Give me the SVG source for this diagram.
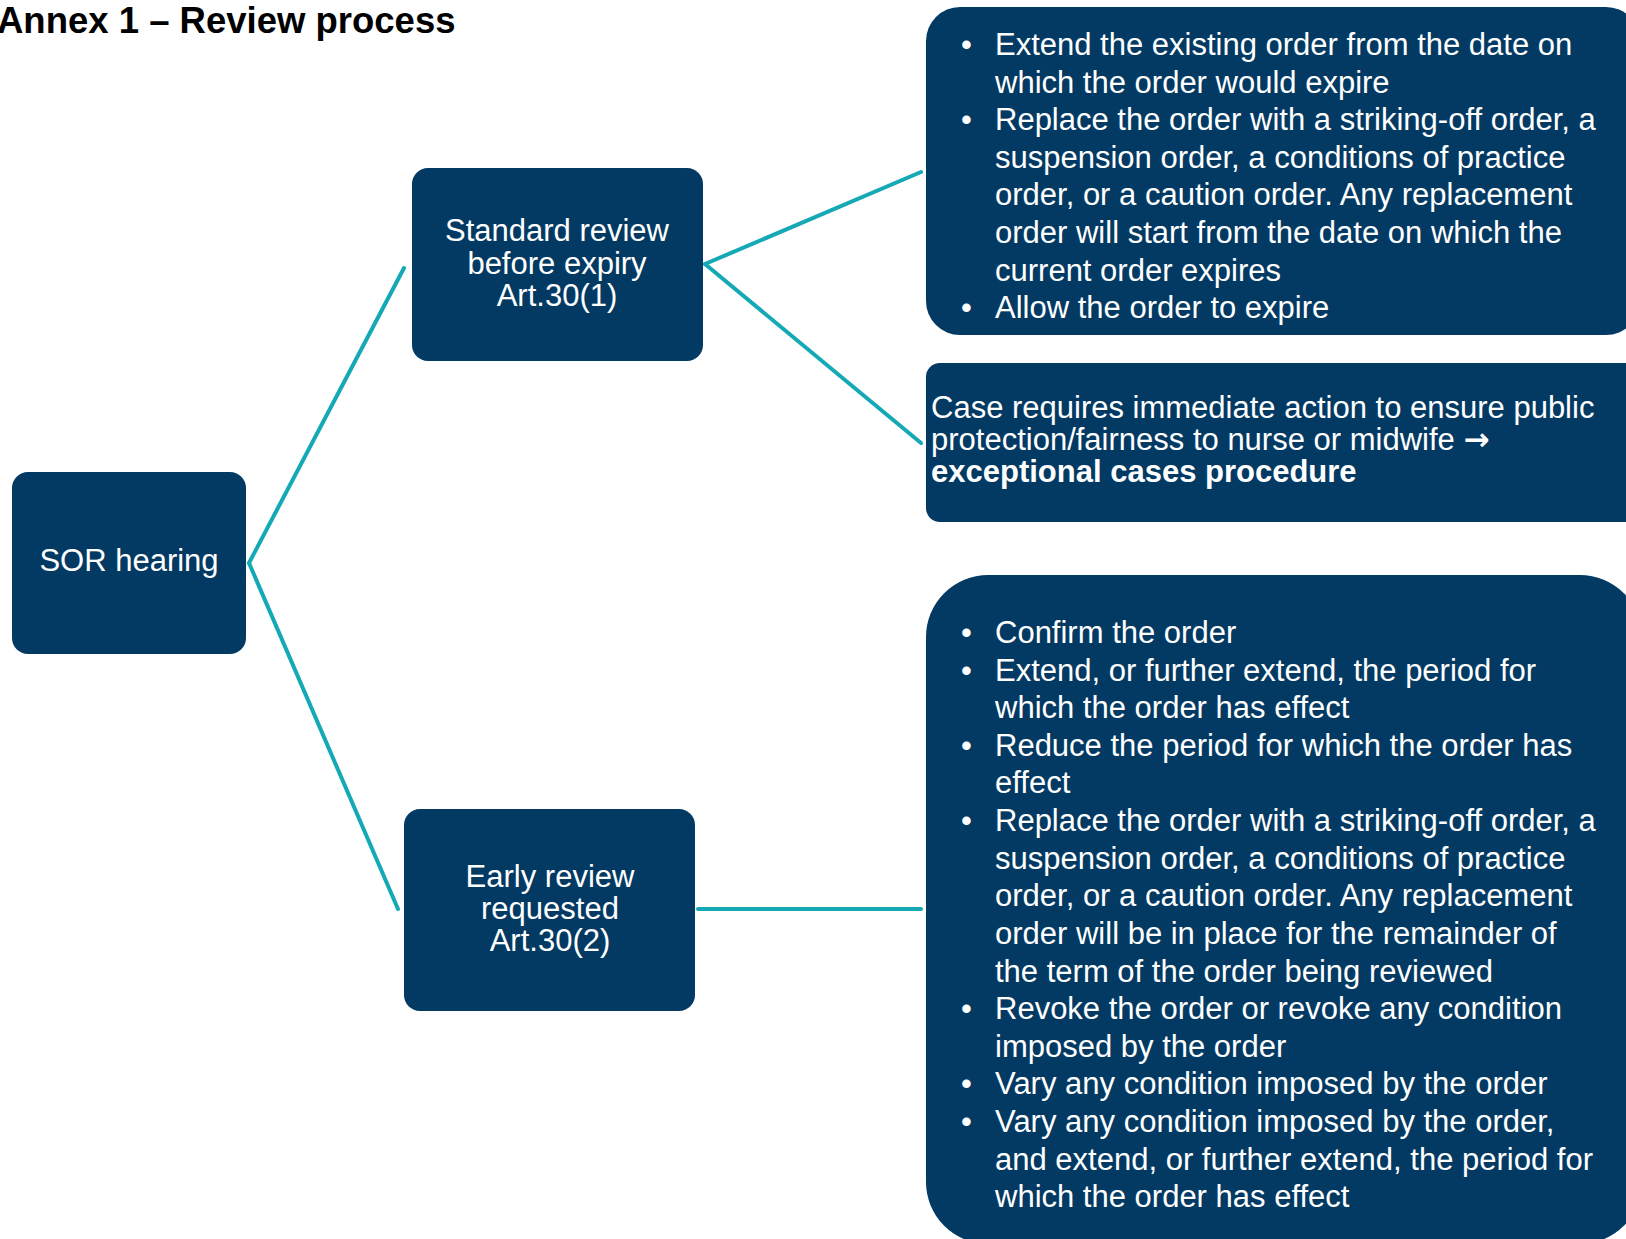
<svg xmlns="http://www.w3.org/2000/svg" width="1626" height="1239" viewBox="0 0 1626 1239">
  <style>
    .box { fill: #033A63; }
    .lbl { font-family: "Liberation Sans", Arial, sans-serif; font-size: 31px; fill: #ffffff; }
    .mid { text-anchor: middle; }
    .bold { font-weight: bold; }
    .arrow { font-family: "DejaVu Sans", sans-serif; font-weight: bold; }
    .link { stroke: #14A9B5; stroke-width: 4; fill: none; stroke-linecap: round; }
    .title { font-family: "Liberation Sans", Arial, sans-serif; font-size: 36.5px; font-weight: bold; fill: #000000; }
  </style>

  <rect width="1626" height="1239" fill="#ffffff"/>

  <text class="title" x="-3" y="33">Annex 1 – Review process</text>

  <!-- connectors -->
  <g id="connectors">
    <line class="link" x1="249" y1="563" x2="404" y2="268"/>
    <line class="link" x1="249" y1="563" x2="398" y2="909"/>
    <line class="link" x1="705" y1="264" x2="921" y2="172"/>
    <line class="link" x1="705" y1="264" x2="921" y2="443"/>
    <line class="link" x1="698" y1="909" x2="921" y2="909"/>
  </g>

  <!-- root -->
  <g id="sor-hearing">
    <rect class="box" x="12" y="472" width="234" height="182" rx="16"/>
    <text class="lbl mid" x="129" y="571">SOR hearing</text>
  </g>

  <g id="standard-review">
    <rect class="box" x="412" y="168" width="291" height="193" rx="16"/>
    <text class="lbl mid" x="557" y="241">Standard review</text>
    <text class="lbl mid" x="557" y="274">before expiry</text>
    <text class="lbl mid" x="557" y="306">Art.30(1)</text>
  </g>

  <g id="early-review">
    <rect class="box" x="404" y="809" width="291" height="202" rx="16"/>
    <text class="lbl mid" x="550" y="887">Early review</text>
    <text class="lbl mid" x="550" y="919">requested</text>
    <text class="lbl mid" x="550" y="951">Art.30(2)</text>
  </g>

  <!-- outcomes of a standard review -->
  <g id="standard-outcomes">
    <rect class="box" x="926" y="7" width="714" height="328" rx="34"/>
    <g class="lbl">
      <text x="961" y="55">•</text>
      <text x="995" y="55">Extend the existing order from the date on</text>
      <text x="995" y="92.6">which the order would expire</text>
      <text x="961" y="130">•</text>
      <text x="995" y="130">Replace the order with a striking-off order, a</text>
      <text x="995" y="168">suspension order, a conditions of practice</text>
      <text x="995" y="205">order, or a caution order. Any replacement</text>
      <text x="995" y="243">order will start from the date on which the</text>
      <text x="995" y="281">current order expires</text>
      <text x="961" y="318">•</text>
      <text x="995" y="318">Allow the order to expire</text>
    </g>
  </g>

  <g id="exceptional-cases">
    <rect class="box" x="926" y="363" width="714" height="159" rx="14"/>
    <g class="lbl">
      <text x="931" y="418">Case requires immediate action to ensure public</text>
      <text x="931" y="450">protection/fairness to nurse or midwife <tspan class="arrow">→</tspan></text>
      <text class="bold" x="931" y="482">exceptional cases procedure</text>
    </g>
  </g>

  <!-- outcomes of an early review -->
  <g id="early-outcomes">
    <rect class="box" x="926" y="575" width="716" height="669" rx="62"/>
    <g class="lbl">
      <text x="961" y="643">•</text>
      <text x="995" y="643">Confirm the order</text>
      <text x="961" y="681">•</text>
      <text x="995" y="681">Extend, or further extend, the period for</text>
      <text x="995" y="718">which the order has effect</text>
      <text x="961" y="756">•</text>
      <text x="995" y="756">Reduce the period for which the order has</text>
      <text x="995" y="793">effect</text>
      <text x="961" y="831">•</text>
      <text x="995" y="831">Replace the order with a striking-off order, a</text>
      <text x="995" y="869">suspension order, a conditions of practice</text>
      <text x="995" y="906">order, or a caution order. Any replacement</text>
      <text x="995" y="944">order will be in place for the remainder of</text>
      <text x="995" y="982">the term of the order being reviewed</text>
      <text x="961" y="1019">•</text>
      <text x="995" y="1019">Revoke the order or revoke any condition</text>
      <text x="995" y="1057">imposed by the order</text>
      <text x="961" y="1094">•</text>
      <text x="995" y="1094">Vary any condition imposed by the order</text>
      <text x="961" y="1132">•</text>
      <text x="995" y="1132">Vary any condition imposed by the order,</text>
      <text x="995" y="1170">and extend, or further extend, the period for</text>
      <text x="995" y="1207">which the order has effect</text>
    </g>
  </g>
</svg>
